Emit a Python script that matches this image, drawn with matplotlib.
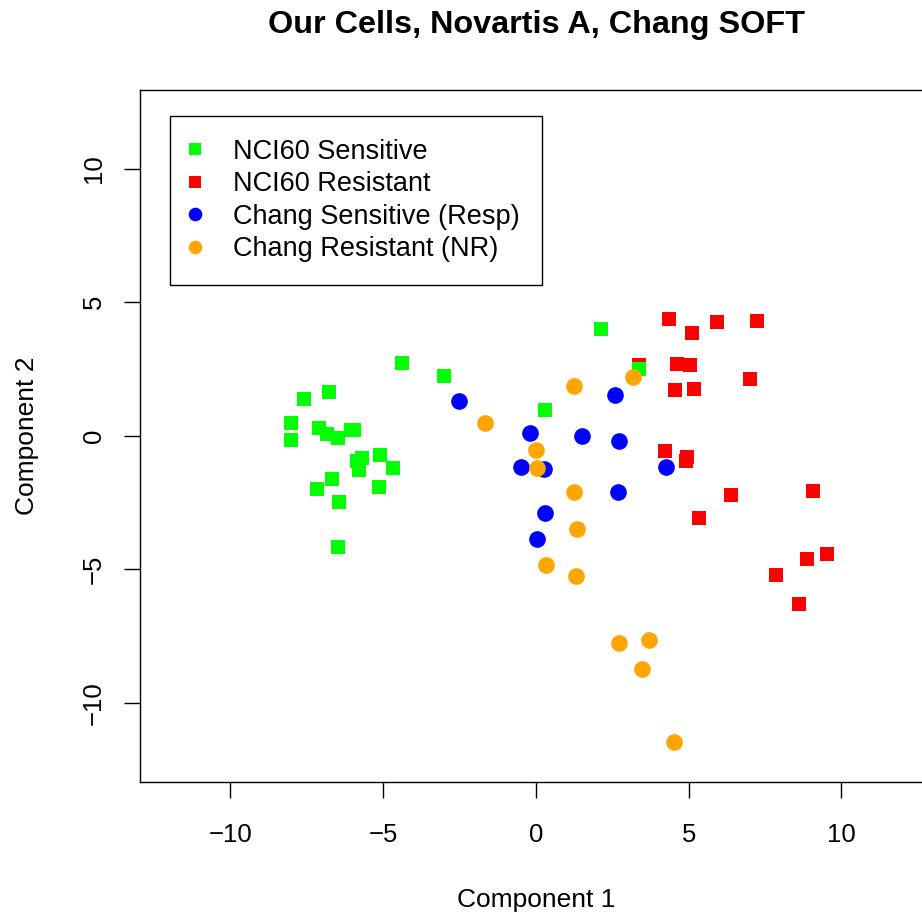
import matplotlib
matplotlib.use("Agg")
import matplotlib.pyplot as plt
from matplotlib.lines import Line2D

plt.rcParams["font.family"] = ["Liberation Sans", "DejaVu Sans"]

# NCI60 cell lines (squares)
sens_x = [-4.38, -3.0, -6.77, -7.58, -8.01, -8.01, -7.09, -6.83, -6.47, -6.07,
          -5.95, -5.85, -5.69, -5.78, -5.10, -4.67, -6.67, -7.16, -5.13, -6.44,
          -6.47, 2.14, 0.30, 3.38]
sens_y = [2.73, 2.24, 1.64, 1.38, 0.48, -0.16, 0.29, 0.06, -0.09, 0.21,
          0.21, -0.95, -0.84, -1.29, -0.73, -1.21, -1.63, -2.00, -1.93, -2.49,
          -4.18, 4.01, 0.97, 2.52]
res_x = [4.36, 5.12, 5.93, 7.24, 3.38, 4.63, 5.05, 7.01, 4.56, 5.18,
         4.23, 4.95, 4.92, 6.39, 9.08, 5.35, 9.54, 8.88, 7.87, 8.62]
res_y = [4.39, 3.86, 4.27, 4.31, 2.67, 2.70, 2.66, 2.13, 1.72, 1.76,
         -0.58, -0.80, -0.95, -2.23, -2.08, -3.06, -4.41, -4.60, -5.20, -6.29]

# Chang samples (circles)
resp_x = [-2.52, -0.21, 1.50, 2.59, 2.72, -0.48, 0.27, 2.69, 0.30, 0.04, 4.27]
resp_y = [1.32, 0.09, 0.00, 1.54, -0.20, -1.18, -1.24, -2.09, -2.87, -3.86, -1.18]
nr_x = [1.23, 3.19, -1.66, 0.01, 0.05, 1.24, 1.33, 0.34, 1.32, 2.72, 3.69, 3.48, 4.53]
nr_y = [1.85, 2.21, 0.49, -0.54, -1.19, -2.09, -3.50, -4.82, -5.25, -7.76, -7.64, -8.73, -11.45]

labels = ["NCI60 Sensitive", "NCI60 Resistant",
          "Chang Sensitive (Resp)", "Chang Resistant (NR)"]
colors = ["#00FF00", "#FF0000", "#0000FF", "#FFA500"]
ticks = [-10, -5, 0, 5, 10]

fig = plt.figure(figsize=(9.22, 9.17), dpi=100)
ax = fig.add_axes([140 / 922, 135 / 917, 791.9 / 922, 692.3 / 917])

ax.scatter(res_x, res_y, marker="s", s=88, color=colors[1], linewidths=0, zorder=2)
ax.scatter(sens_x, sens_y, marker="s", s=88, color=colors[0], linewidths=0, zorder=3)
ax.scatter(resp_x, resp_y, marker="o", s=144, color=colors[2], linewidths=0, zorder=4)
ax.scatter(nr_x, nr_y, marker="o", s=144, color=colors[3], linewidths=0, zorder=5)

ax.set_xlim(-12.96, 12.96)
ax.set_ylim(-12.96, 12.96)
ax.set_xticks(ticks)
ax.set_yticks(ticks)
ax.set_xticklabels([str(t).replace("-", "\u2212") for t in ticks])
ax.set_yticklabels([str(t).replace("-", "\u2212") for t in ticks],
                   rotation=90, va="center")
ax.tick_params(axis="both", length=11.5, width=1.0, labelsize=18.5, direction="out")
ax.tick_params(axis="x", pad=18)
ax.tick_params(axis="y", pad=13)
for sp in ax.spines.values():
    sp.set_linewidth(1.0)

ax.set_xlabel("Component 1", fontsize=19)
ax.xaxis.set_label_coords(0.5, -0.1705)
ax.xaxis.label.set_va("center")
ax.set_ylabel("Component 2", fontsize=19)
ax.yaxis.set_label_coords(-0.1427, 0.5)
ax.yaxis.label.set_va("center")

fig.text(536 / 922, 1 - 25 / 917, "Our Cells, Novartis A, Chang SOFT",
         ha="center", va="center", fontsize=23.3, fontweight="bold")

handles = [
    Line2D([], [], linestyle="none", marker="s", markersize=9.2,
           markerfacecolor=colors[0], markeredgewidth=0),
    Line2D([], [], linestyle="none", marker="s", markersize=9.2,
           markerfacecolor=colors[1], markeredgewidth=0),
    Line2D([], [], linestyle="none", marker="o", markersize=9.8,
           markerfacecolor=colors[2], markeredgewidth=0),
    Line2D([], [], linestyle="none", marker="o", markersize=9.8,
           markerfacecolor=colors[3], markeredgewidth=0),
]
leg = ax.legend(handles, labels, loc="upper left",
                bbox_to_anchor=(169.7 / 922, 1 - 115.7 / 917),
                bbox_transform=fig.transFigure, borderaxespad=0,
                fontsize=19.5, fancybox=False, framealpha=1, edgecolor="black",
                borderpad=0.85, handlelength=0.2, handletextpad=1.28,
                labelspacing=0.24)
leg.get_frame().set_linewidth(1.0)

fig.savefig("out.png", dpi=100)
